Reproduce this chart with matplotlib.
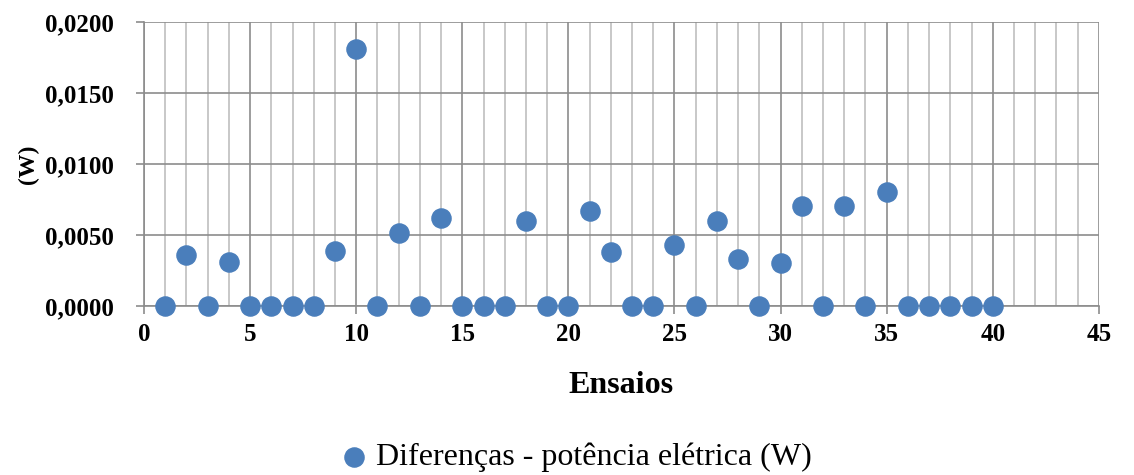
import matplotlib.pyplot as plt
import numpy as np
from matplotlib.ticker import FuncFormatter, MultipleLocator

ensaios = list(range(1, 41))
diferencas = [0.0, 0.0036, 0.0, 0.0031, 0.0, 0.0, 0.0, 0.0, 0.0039, 0.0181,
              0.0, 0.0051, 0.0, 0.0062, 0.0, 0.0, 0.0, 0.0060, 0.0, 0.0,
              0.0067, 0.0038, 0.0, 0.0, 0.0043, 0.0, 0.0060, 0.0033, 0.0, 0.0030,
              0.0070, 0.0, 0.0070, 0.0, 0.0080, 0.0, 0.0, 0.0, 0.0, 0.0]
serie = 'Diferenças - potência elétrica (W)'

plt.rcParams['font.family'] = ['Liberation Serif', 'DejaVu Serif']

fig = plt.figure(figsize=(11.34, 4.75), dpi=100)
ax = fig.add_axes([0.127, 0.356, 0.842, 0.598])

ax.scatter(ensaios, diferencas, s=190, color='#4a7ebb', zorder=3,
           label=serie, clip_on=False)

ax.set_xlim(0, 45)
ax.set_ylim(0, 0.02)
ax.xaxis.set_major_locator(MultipleLocator(5))
ax.xaxis.set_minor_locator(MultipleLocator(1))
ax.yaxis.set_major_locator(MultipleLocator(0.005))
ax.yaxis.set_major_formatter(FuncFormatter(lambda v, p: f'{v:.4f}'.replace('.', ',')))

ax.grid(which='major', axis='x', color='#8c8c8c', lw=1.2)
ax.grid(which='minor', axis='x', color='#bfbfbf', lw=1.2)
ax.grid(which='major', axis='y', color='#8c8c8c', lw=1.2)
ax.set_axisbelow(True)

for s in ['top', 'right']:
    ax.spines[s].set_visible(False)
for s in ['left', 'bottom']:
    ax.spines[s].set_color('#8c8c8c')
    ax.spines[s].set_linewidth(1.2)

ax.tick_params(axis='both', which='major', length=6, color='#8c8c8c', width=1.2,
               labelsize=18)
ax.tick_params(axis='y', which='major', pad=16)
ax.tick_params(axis='x', which='major', pad=6)
ax.tick_params(axis='x', which='minor', length=0)
for lbl in ax.get_xticklabels() + ax.get_yticklabels():
    lbl.set_fontweight('bold')

ax.set_xlabel('Ensaios', fontsize=23, fontweight='bold', labelpad=18)
ax.set_ylabel('(W)', fontsize=17, fontweight='bold', labelpad=4)

fig.legend(loc='lower center', bbox_to_anchor=(0.5, -0.035), frameon=False,
           fontsize=23, handletextpad=-0.3, markerscale=1.0, borderaxespad=0.2)

fig.savefig('out.png', dpi=100)
